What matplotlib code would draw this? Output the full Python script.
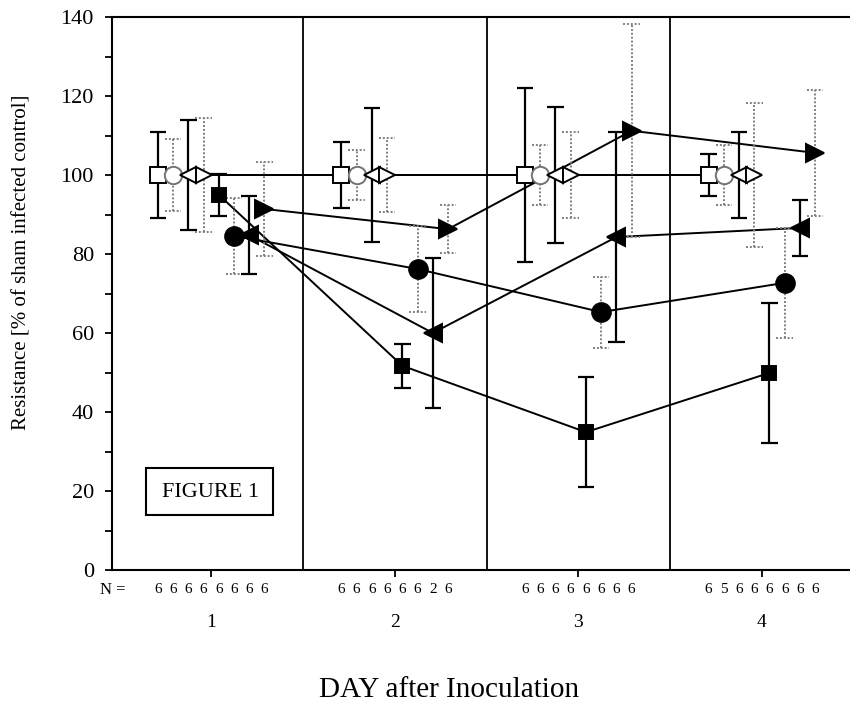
import matplotlib
matplotlib.use("Agg")
import matplotlib.pyplot as plt
from matplotlib.patches import Rectangle
import numpy as np

plt.rcParams['font.family'] = ['Liberation Serif', 'DejaVu Serif']

days = [1, 2, 3, 4]

# mean and error (+/-) of each group, order as plotted left to right in a day
ctrl_sq_mean = [100, 100, 100, 100]
ctrl_sq_err = [11, 8.3, 22, 5.3]
ctrl_ci_mean = [100, 100, 100, 100]
ctrl_ci_err = [9.2, 6.3, 7.5, 7.5]
ctrl_lt_mean = [100, 100, 100, 100]
ctrl_lt_err = [13.8, 17, 17.3, 11]
ctrl_rt_mean = [100, 100, 100, 100]
ctrl_rt_err = [14.4, 9.4, 11, 18.3]
inf_sq_mean = [95, 51.7, 34.9, 49.9]
inf_sq_err = [5.3, 5.5, 14, 17.7]
inf_ci_mean = [84.6, 76.2, 65.3, 72.7]
inf_ci_err = [9.6, 11, 9, 14]
inf_lt_mean = [84.8, 60, 84.3, 86.6]
inf_lt_err = [9.9, 19, 26.6, 7]
inf_rt_mean = [91.4, 86.3, 111.2, 105.6]
inf_rt_err = [11.8, 6, 27, 16]

n_day1 = [6, 6, 6, 6, 6, 6, 6, 6]
n_day2 = [6, 6, 6, 6, 6, 6, 2, 6]
n_day3 = [6, 6, 6, 6, 6, 6, 6, 6]
n_day4 = [6, 5, 6, 6, 6, 6, 6, 6]

series = [
    (ctrl_sq_mean, ctrl_sq_err, 's', 'white', 'black', 'solid', 12),
    (ctrl_ci_mean, ctrl_ci_err, 'o', 'white', '0.45', 'dotted', 12.5),
    (ctrl_lt_mean, ctrl_lt_err, '<', 'white', 'black', 'solid', 11.5),
    (ctrl_rt_mean, ctrl_rt_err, '>', 'white', 'black', 'dotted', 11.5),
    (inf_sq_mean, inf_sq_err, 's', 'black', 'black', 'solid', 10.5),
    (inf_ci_mean, inf_ci_err, 'o', 'black', 'black', 'dotted', 13.5),
    (inf_lt_mean, inf_lt_err, '<', 'black', 'black', 'solid', 12.5),
    (inf_rt_mean, inf_rt_err, '>', 'black', 'black', 'dotted', 12.5),
]
n_table = [n_day1, n_day2, n_day3, n_day4]

step = 0.083
cap = 0.045
dots = (0, (1, 1))

fig = plt.figure(figsize=(8.5, 7.09), dpi=100)
ax = fig.add_axes([112 / 850, 1 - 570 / 709, 1 - 112 / 850, 553 / 709])

for sep in [1.5, 2.5, 3.5]:
    ax.axvline(sep, color='black', lw=1.3, zorder=1)

for i, (mean, err, mk, fc, ec, ebstyle, ms) in enumerate(series):
    x = np.array(days) + (i - 3.5) * step
    mean = np.array(mean)
    err = np.array(err)
    ax.plot(x, mean, color='black', lw=1.4, zorder=2)
    if ebstyle == 'solid':
        col, ls, lw = 'black', 'solid', 1.6
    else:
        col, ls, lw = '0.5', dots, 1.4
    ax.vlines(x, mean - err, mean + err, colors=col, linestyles=[ls], lw=lw, zorder=3)
    ax.hlines(mean - err, x - cap, x + cap, colors=col, linestyles=[ls], lw=lw, zorder=3)
    ax.hlines(mean + err, x - cap, x + cap, colors=col, linestyles=[ls], lw=lw, zorder=3)
    ax.plot(x, mean, linestyle='none', marker=mk, markersize=ms, markerfacecolor=fc,
            markeredgecolor=ec, markeredgewidth=1.4, zorder=4)

ax.set_xlim(0.46, 4.48)
ax.set_ylim(0, 140)
ax.set_yticks(np.arange(0, 141, 20))
ax.set_yticks(np.arange(0, 141, 10), minor=True)
ax.set_xticks(days)
ax.set_xticklabels([str(d) for d in days], fontsize=14)
ax.tick_params(axis='y', which='both', direction='out', length=5, width=1.3, labelsize=16, pad=8)
ax.tick_params(axis='x', direction='out', length=5, width=1.3, pad=27)
ax.spines['right'].set_visible(False)
for s in ['left', 'bottom', 'top']:
    ax.spines[s].set_linewidth(1.5)

# N row
xt = ax.get_xaxis_transform()
for d, ns in zip(days, n_table):
    for i, n in enumerate(ns):
        ax.text(d + (i - 3.5) * step, -0.036, str(n), transform=xt, ha='center', va='center',
                fontsize=11, clip_on=False)
fig.text(113 / 850, 1 - 590 / 709, 'N =', ha='center', va='center', fontsize=12)

# figure label box
ax.add_patch(Rectangle((0.046, 0.0995), 0.172, 0.085, transform=ax.transAxes,
                       facecolor='white', edgecolor='black', lw=1.5, zorder=5))
ax.text(0.133, 0.141, 'FIGURE 1', transform=ax.transAxes, ha='center', va='center',
        fontsize=16, zorder=6)

fig.text(22 / 850, 1 - 262 / 709, 'Resistance [% of sham infected control]', rotation=90,
         ha='center', va='center', fontsize=15)
fig.text(449 / 850, 1 - 690 / 709, 'DAY after Inoculation', ha='center', va='center', fontsize=21)

fig.savefig('out.png', dpi=100)
